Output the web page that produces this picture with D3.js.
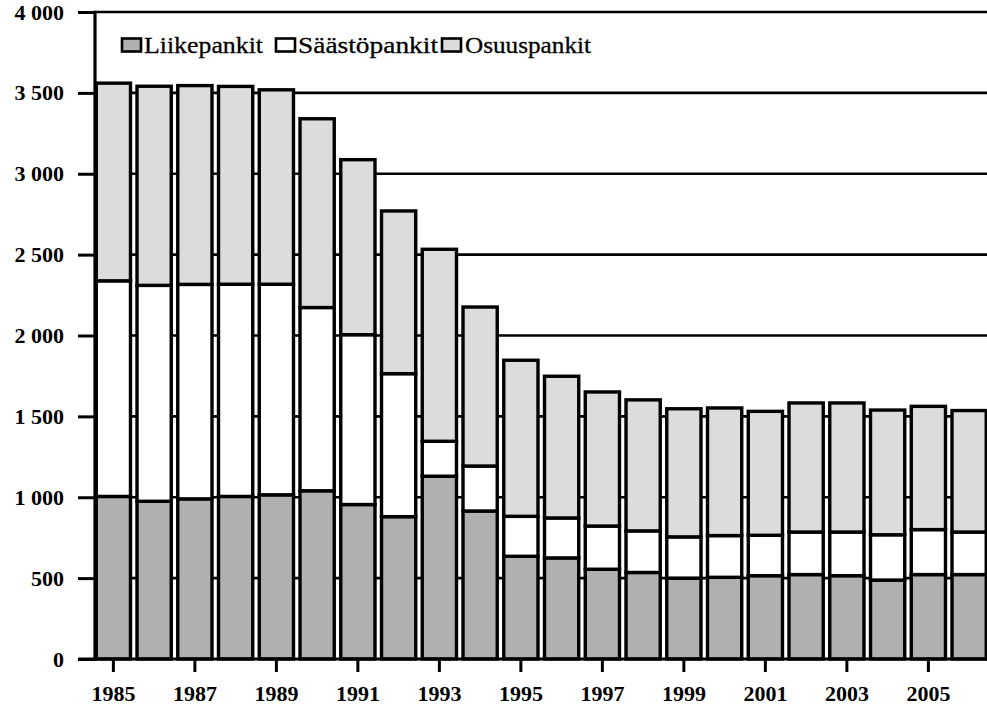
<!DOCTYPE html>
<html><head><meta charset="utf-8">
<script src="https://cdn.jsdelivr.net/npm/d3@7"></script>
<style>
html,body{margin:0;padding:0;background:#fff;}
svg{display:block;}
</style>
</head><body>
<svg id="chart" width="987" height="706"></svg>
<script>
const years = ["1985","1986","1987","1988","1989","1990","1991","1992","1993","1994","1995","1996","1997","1998","1999","2000","2001","2002","2003","2004","2005","2006"];
const liikepankit = [1005,975,990,1005,1015,1040,955,880,1130,915,635,625,555,535,500,505,515,522,515,488,522,522];
const saastopankit = [1333,1335,1326,1312,1302,1133,1050,884,216,278,247,247,267,257,255,258,250,263,270,280,278,263];
const osuuspankit = [1222,1231,1229,1223,1202,1167,1082,1006,1187,983,965,876,829,810,792,789,766,798,798,771,762,751];
const seriesNames = ["Liikepankit","Säästöpankit","Osuuspankit"];
const yTicks = [0,500,1000,1500,2000,2500,3000,3500,4000];
const xTickLabels = ["1985","1987","1989","1991","1993","1995","1997","1999","2001","2003","2005"];

const SERIF = '"Liberation Serif"';
const colors = ["#b0b0b0","#ffffff","#dcdcdc"];
const svg = d3.select("#chart");
const axisX = 95, baseY = 659, topY = 12, rightX = 987;

const x = d3.scaleBand().domain(years).range([93, 989.5]).paddingInner(0.16).paddingOuter(0.08);
const y = d3.scaleLinear().domain([0, 4000]).range([baseY, topY]);

const table = years.map((yr, i) => ({year: yr, Liikepankit: liikepankit[i], "Säästöpankit": saastopankit[i], Osuuspankit: osuuspankit[i]}));
const stacked = d3.stack().keys(seriesNames)(table);

// gridlines
svg.append("g").selectAll("line").data(yTicks.filter(d => d > 0)).join("line")
  .attr("x1", axisX).attr("x2", rightX).attr("y1", d => y(d)).attr("y2", d => y(d))
  .attr("stroke", "#000").attr("stroke-width", 2.6);

// bars
svg.append("g").selectAll("g").data(stacked).join("g")
  .attr("fill", (d, i) => colors[i])
  .selectAll("rect").data(d => d).join("rect")
  .attr("x", d => x(d.data.year))
  .attr("width", x.bandwidth())
  .attr("y", d => y(d[1]))
  .attr("height", d => y(d[0]) - y(d[1]))
  .attr("stroke", "#000").attr("stroke-width", 3.4);

// y axis
const yAxis = d3.axisLeft(y).tickValues(yTicks).tickSize(17).tickPadding(14)
  .tickFormat(d => d3.format(",")(d).replace(/,/g, " "));
const gy = svg.append("g").attr("transform", `translate(${axisX},0)`).call(yAxis);
gy.select(".domain").remove();
gy.selectAll(".tick line").attr("stroke", "#000").attr("stroke-width", 3);
gy.selectAll(".tick text").style("font-family", SERIF)
  .attr("font-weight", "bold").attr("font-size", 22).attr("fill", "#000");
svg.append("line").attr("x1", axisX).attr("x2", axisX).attr("y1", topY - 1.3).attr("y2", baseY + 1.5)
  .attr("stroke", "#000").attr("stroke-width", 3.2);

// x axis
const xAxis = d3.axisBottom(x).tickValues(xTickLabels).tickSize(13).tickPadding(13);
const gx = svg.append("g").attr("transform", `translate(0,${baseY})`).call(xAxis);
gx.select(".domain").remove();
gx.selectAll(".tick line").attr("stroke", "#000").attr("stroke-width", 3);
gx.selectAll(".tick text").style("font-family", SERIF)
  .attr("font-weight", "bold").attr("font-size", 22).attr("fill", "#000");
svg.append("line").attr("x1", 78).attr("x2", rightX).attr("y1", baseY).attr("y2", baseY)
  .attr("stroke", "#000").attr("stroke-width", 3);

// legend
const legendPos = [{sx: 122, tx: 144, tl: 119}, {sx: 276, tx: 298, tl: 140}, {sx: 442, tx: 465, tl: 126}];
const lg = svg.append("g");
seriesNames.forEach((name, i) => {
  lg.append("rect").attr("x", legendPos[i].sx).attr("y", 38.5).attr("width", 19).attr("height", 13)
    .attr("fill", colors[i]).attr("stroke", "#000").attr("stroke-width", 2.6);
  lg.append("text").style("font-family", SERIF).attr("x", legendPos[i].tx).attr("y", 53)
    .attr("font-size", 24).attr("fill", "#000").attr("stroke", "#000").attr("stroke-width", 0.3)
    .attr("textLength", legendPos[i].tl).attr("lengthAdjust", "spacingAndGlyphs")
    .text(name);
});
</script>
</body></html>
